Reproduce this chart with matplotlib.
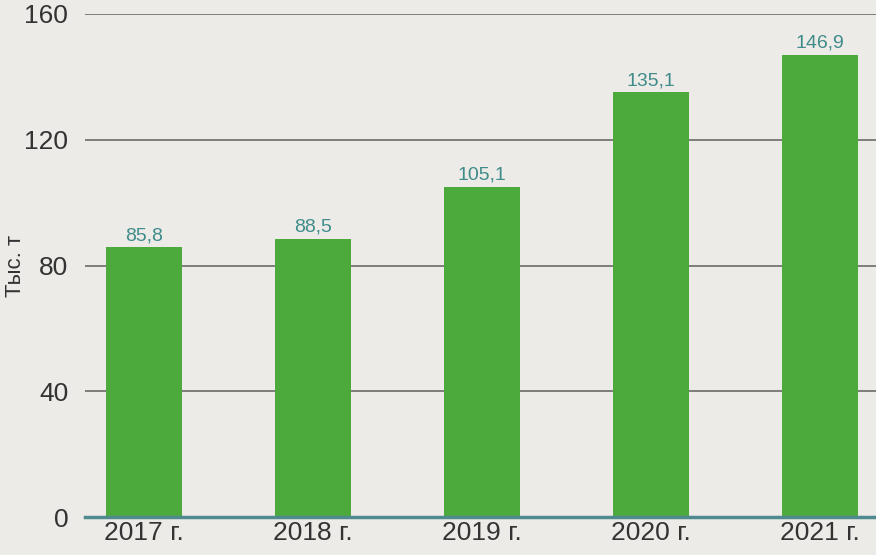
import matplotlib
matplotlib.use("Agg")
import matplotlib.pyplot as plt

categories = ["2017 г.", "2018 г.", "2019 г.", "2020 г.", "2021 г."]
values = [85.8, 88.5, 105.1, 135.1, 146.9]
value_labels = ["85,8", "88,5", "105,1", "135,1", "146,9"]
yticks = [0, 40, 80, 120, 160]

plt.rcParams['font.family'] = ['Liberation Sans Narrow', 'Liberation Sans', 'DejaVu Sans']

fig = plt.figure(figsize=(8.76, 5.55), dpi=100, facecolor="#ecebe7")
ax = fig.add_axes([0.097, 0.068, 0.903, 0.907])
ax.set_facecolor("#ecebe7")

x = range(len(categories))
ax.bar(x, values, width=0.45, color="#4caa3c", zorder=3)
for xi, v, lab in zip(x, values, value_labels):
    ax.text(xi, v + 1.0, lab, ha="center", va="bottom", fontsize=14, color="#3f8c8a", zorder=4)

ax.set_xlim(-0.35, 4.33)
ax.set_ylim(0, 160)
ax.set_yticks(yticks)
ax.set_yticklabels([str(t) for t in yticks], fontsize=19, color="#333333")
ax.set_xticks(list(x))
ax.set_xticklabels(categories, fontsize=19, color="#333333")
ax.tick_params(axis="y", length=0, pad=12)
ax.tick_params(axis="x", length=0, pad=3)
ax.yaxis.grid(True, color="#6a6a6a", linewidth=1.2, zorder=0)
for s in ["top", "right", "left"]:
    ax.spines[s].set_visible(False)
ax.spines["bottom"].set_color("#4f8a8e")
ax.spines["bottom"].set_linewidth(2.5)
ax.spines["bottom"].set_zorder(5)
fig.text(0.018, 0.52, "Тыс. т", rotation=90, ha="center", va="center", fontsize=16, color="#333333")

fig.savefig("out.png", dpi=100, facecolor=fig.get_facecolor())
